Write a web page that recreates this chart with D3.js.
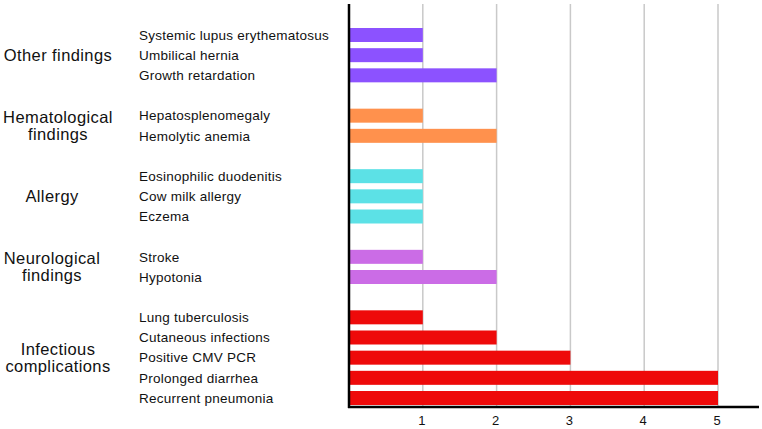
<!DOCTYPE html>
<html>
<head>
<meta charset="utf-8">
<script src="https://cdn.jsdelivr.net/npm/d3@7"></script>
<style>
  body { margin: 0; background: #fff; }
  text { font-family: "Liberation Sans", Arial, sans-serif; fill: #111; }
</style>
</head>
<body>
<div id="viz"></div>
<script>
var width = 762, height = 429;

// data, top to bottom
var groups = ["Other findings", "Hematological findings", "Allergy", "Neurological findings", "Infectious complications"];
var groupLines = [["Other findings"], ["Hematological", "findings"], ["Allergy"], ["Neurological", "findings"], ["Infectious", "complications"]];
var items = [
  ["Systemic lupus erythematosus", "Umbilical hernia", "Growth retardation"],
  ["Hepatosplenomegaly", "Hemolytic anemia"],
  ["Eosinophilic duodenitis", "Cow milk allergy", "Eczema"],
  ["Stroke", "Hypotonia"],
  ["Lung tuberculosis", "Cutaneous infections", "Positive CMV PCR", "Prolonged diarrhea", "Recurrent pneumonia"]
];
var values = [
  [1, 1, 2],
  [1, 2],
  [1, 1, 1],
  [1, 2],
  [1, 2, 3, 5, 5]
];
var colors = ["#8c52ff", "#ff914d", "#5ce1e6", "#cb6ce6", "#ee0a0a"];
var xTicks = [1, 2, 3, 4, 5];

// flatten into rows with a blank slot between groups
var slots = [];
var rows = [];
items.forEach(function(list, gi) {
  if (gi > 0) slots.push("gap" + gi);
  list.forEach(function(name, i) {
    slots.push(name);
    rows.push({group: gi, name: name, value: values[gi][i]});
  });
});

var margin = {top: 4, left: 349, bottom: 407};

var x = d3.scaleLinear().domain([0, 5]).range([349, 718]);
var y = d3.scalePoint().domain(slots).range([35, 398]);
var barH = 14;

var svg = d3.select('#viz').append('svg')
  .attr('width', width)
  .attr('height', height);

// gridlines
svg.append('g')
  .selectAll('line')
  .data(xTicks)
  .join('line')
  .attr('x1', d => x(d)).attr('x2', d => x(d))
  .attr('y1', margin.top).attr('y2', margin.bottom)
  .attr('stroke', '#c9c9c9')
  .attr('stroke-width', 1.5);

// bars
svg.append('g')
  .selectAll('rect')
  .data(rows)
  .join('rect')
  .attr('x', x(0) + 1)
  .attr('y', d => y(d.name) - barH / 2)
  .attr('width', d => x(d.value) - x(0) - 1)
  .attr('height', barH)
  .attr('fill', d => colors[d.group]);

// item labels
svg.append('g')
  .selectAll('text')
  .data(rows)
  .join('text')
  .attr('x', 139)
  .attr('y', d => y(d.name))
  .attr('dy', '0.35em')
  .attr('font-size', 13.5)
  .attr('letter-spacing', 0.25)
  .text(d => d.name);

// group labels
var gl = svg.append('g')
  .selectAll('text')
  .data(groups)
  .join('text')
  .attr('text-anchor', 'middle')
  .attr('font-size', 16.5)
  .attr('letter-spacing', 0.4)
  .attr('x', (d, i) => (i == 2 || i == 3) ? 52 : 58)
  .attr('y', function(d, i) {
    var ys = items[i].map(n => y(n));
    return (d3.min(ys) + d3.max(ys)) / 2;
  });

gl.each(function(d, i) {
  var lines = groupLines[i];
  var t = d3.select(this);
  lines.forEach(function(l, k) {
    t.append('tspan')
      .attr('x', t.attr('x'))
      .attr('dy', k == 0 ? (0.35 - (lines.length - 1) * 0.5) + 'em' : '1.0em')
      .text(l);
  });
});

// axes
svg.append('line')
  .attr('x1', x(0)).attr('x2', x(0))
  .attr('y1', margin.top).attr('y2', margin.bottom + 1)
  .attr('stroke', '#000').attr('stroke-width', 2.5);

svg.append('line')
  .attr('x1', x(0) - 1).attr('x2', 759)
  .attr('y1', margin.bottom).attr('y2', margin.bottom)
  .attr('stroke', '#000').attr('stroke-width', 2.5);

// tick labels
svg.append('g')
  .selectAll('text')
  .data(xTicks)
  .join('text')
  .attr('x', d => x(d) - 1)
  .attr('y', 425)
  .attr('text-anchor', 'middle')
  .attr('font-size', 13)
  .text(d => d);
</script>
</body>
</html>
